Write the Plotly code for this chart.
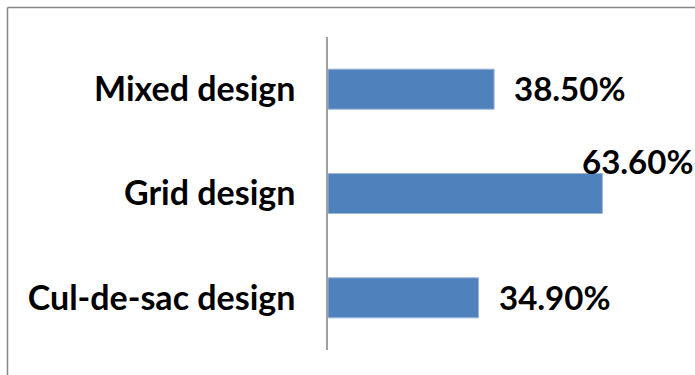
import plotly.graph_objects as go

categories = ["Cul-de-sac design", "Grid design", "Mixed design"]
values = [34.9, 63.6, 38.5]
value_labels = ["34.90%", "63.60%", "38.50%"]

W, H = 695, 375
L, T, B = 328, 37, 25
PW = 302
R = W - L - PW
PH = H - T - B

FONT = "Lato"
BAR = "#4F81BD"

fig = go.Figure()
fig.add_trace(go.Bar(
    y=categories, x=values, orientation="h",
    marker=dict(color=BAR, line=dict(color="#9DB6D8", width=1)),
    hoverinfo="skip",
))

# label offsets (Grid label sits above bar end, others right of end)
shifts = {"Cul-de-sac design": (18, 1, "left"),
          "Grid design": (93, 33, "right"),
          "Mixed design": (18, 1, "left")}
for c, v, t in zip(categories, values, value_labels):
    xs, ys, anc = shifts[c]
    fig.add_annotation(x=v, y=c, xref="x", yref="y", text="<b>%s</b>" % t,
                       showarrow=False, xanchor=anc, yanchor="middle",
                       xshift=xs, yshift=ys,
                       font=dict(family=FONT, size=33, color="#000000"))

def px_to_fx(px):
    return (px - L) / PW

def py_to_fy(py):
    return (H - B - py) / PH

# chart border (left and top visible)
fig.add_shape(type="line", xref="paper", yref="paper",
              x0=px_to_fx(7.5), x1=px_to_fx(7.5), y0=py_to_fy(7.5), y1=py_to_fy(380),
              line=dict(color="#868686", width=1.5))
fig.add_shape(type="line", xref="paper", yref="paper",
              x0=px_to_fx(7.5), x1=px_to_fx(700), y0=py_to_fy(7.5), y1=py_to_fy(7.5),
              line=dict(color="#868686", width=1.5))

fig.update_layout(
    width=W, height=H,
    margin=dict(l=L, r=R, t=T, b=B, pad=0),
    paper_bgcolor="white", plot_bgcolor="white",
    showlegend=False,
    bargap=0.616,
    xaxis=dict(range=[0, 70], visible=False, fixedrange=True),
    yaxis=dict(showgrid=False, zeroline=False, showline=True,
               linecolor="#A0A0A0", linewidth=1.5, ticks="",
               ticklabelstandoff=24,
               tickfont=dict(family=FONT, size=34, color="#000000"),
               tickprefix="<b>", ticksuffix="</b>"),
)

fig.write_html("out.html")
